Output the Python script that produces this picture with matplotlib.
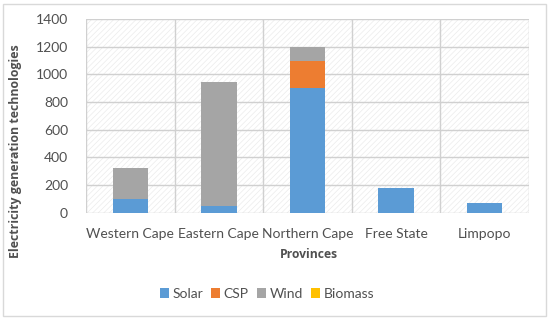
import matplotlib
matplotlib.use("Agg")
import matplotlib.pyplot as plt
from matplotlib.patches import Rectangle
import numpy as np

provinces = ["Western Cape", "Eastern Cape", "Northern Cape", "Free State", "Limpopo"]
solar = [100, 50, 900, 175, 70]
csp = [0, 0, 195, 0, 0]
wind = [220, 895, 105, 0, 0]
biomass = [0, 0, 0, 0, 0]
yticks = [0, 200, 400, 600, 800, 1000, 1200, 1400]

colors = {"Solar": "#5b9bd5", "CSP": "#ed7d31", "Wind": "#a5a5a5", "Biomass": "#ffc000"}

plt.rcParams['font.family'] = ['Lato', 'DejaVu Sans']
plt.rcParams['hatch.linewidth'] = 0.5
plt.rcParams['hatch.color'] = '#ebebeb'

fig = plt.figure(figsize=(5.5, 3.2), dpi=100)
ax = fig.add_axes([86/550, 1-212.5/320, (529-86)/550, (212.5-19)/320])

x = np.arange(len(provinces))
w = 0.4
bottom = np.zeros(len(provinces))
for name, vals in [("Solar", solar), ("CSP", csp), ("Wind", wind), ("Biomass", biomass)]:
    ax.bar(x, vals, w, bottom=bottom, color=colors[name], label=name, zorder=3)
    bottom += np.array(vals)

ax.set_xlim(-0.5, len(provinces) - 0.5)
ax.set_ylim(0, 1400)
ax.set_yticks(yticks)
ax.set_yticklabels([str(v) for v in yticks], fontsize=10, color='#505050')
ax.set_xticks(x)
ax.set_xticklabels(provinces, fontsize=10, color='#505050')
ax.tick_params(axis='y', length=0, pad=13)
ax.tick_params(axis='x', length=0, pad=11)
ax.yaxis.grid(True, color='#d0d0d0', linewidth=1, zorder=1)
ax.set_xticks(np.arange(-0.5, len(provinces)), minor=True)
ax.xaxis.grid(True, which='minor', color='#d0d0d0', linewidth=1, zorder=1)
ax.tick_params(axis='x', which='minor', length=0)
for s in ax.spines.values():
    s.set_visible(False)
ax.set_axisbelow(True)

bg = Rectangle((0, 0), 1, 1, transform=ax.transAxes, facecolor='white',
               edgecolor='#ebebeb', hatch='//////', linewidth=0, zorder=0)
ax.add_patch(bg)

bold_family = ['Open Sans', 'DejaVu Sans']
fig.text(0.5 * (86 + 529) / 550 + 1/550, 1 - 254/320, "Provinces", fontsize=8.7,
         fontweight='bold', family=bold_family, color='#505050', ha='center', va='center')
fig.text(16/550, 1 - 151/320, "Electricity generation technologies", fontsize=8.9,
         fontweight='bold', family=bold_family, color='#505050', rotation=90,
         ha='center', va='center')

handles, labels = ax.get_legend_handles_labels()
fig.legend(handles, labels, loc='center', bbox_to_anchor=(267/550, 1-294/320), ncol=4,
           frameon=False, fontsize=10, handlelength=0.65, handleheight=0.65,
           columnspacing=0.6, handletextpad=0.25, labelcolor='#505050')

border = Rectangle((3/550, 1-316/320), 543/550, 312/320, transform=fig.transFigure,
                   fill=False, edgecolor='#d9d9d9', linewidth=1)
fig.patches.append(border)

fig.savefig("out.png", dpi=100)
